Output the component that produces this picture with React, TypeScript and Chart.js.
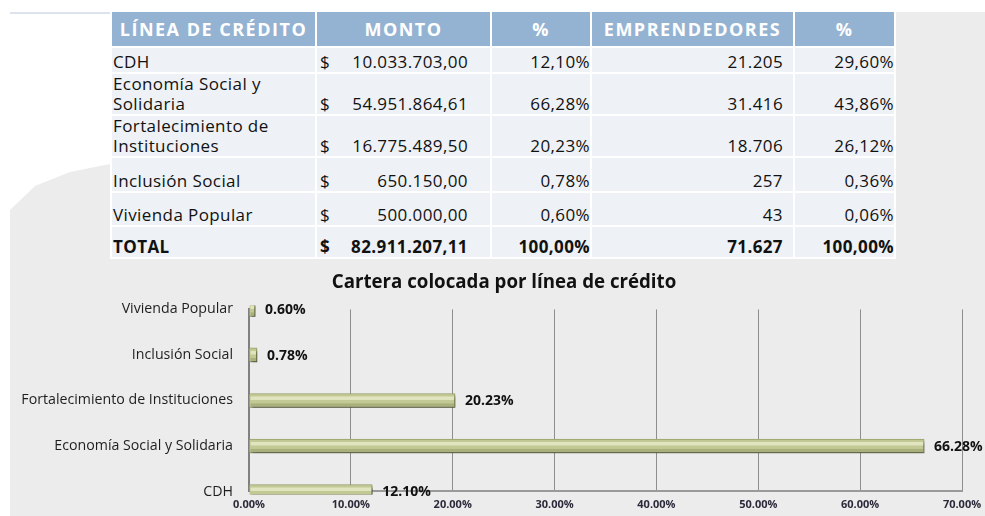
import React, { useEffect, useRef } from 'react';
import { Chart, registerables } from 'chart.js';

Chart.register(...registerables);

// ---- data ----
const headers = ['LÍNEA DE CRÉDITO', 'MONTO', '%', 'EMPRENDEDORES', '%'];
const lineas = ['CDH', 'Economía Social y Solidaria', 'Fortalecimiento de Instituciones', 'Inclusión Social', 'Vivienda Popular'];
const montos = [10033703.0, 54951864.61, 16775489.5, 650150.0, 500000.0];
const pctMonto = [12.1, 66.28, 20.23, 0.78, 0.6];
const emprendedores = [21205, 31416, 18706, 257, 43];
const pctEmprendedores = [29.6, 43.86, 26.12, 0.36, 0.06];
const totalLabel = 'TOTAL';
const totalMonto = 82911207.11;
const totalPctMonto = 100;
const totalEmprendedores = 71627;
const totalPctEmprendedores = 100;
const chartTitle = 'Cartera colocada por línea de crédito';
const xMin = 0;
const xMax = 70;
const xStep = 10;

// ---- layout / style ----
const FONT = '"Open Sans", Lato, sans-serif';
const colWidths = [203, 173, 98, 201, 99];
const rowHeights = [34, 24, 40, 40, 33, 32, 30];

function fmtEs(v: number, dec: number) {
  const [i, d] = v.toFixed(dec).split('.');
  const ig = i.replace(/\B(?=(\d{3})+(?!\d))/g, '.');
  return d ? ig + ',' + d : ig;
}

const barStyler = {
  id: 'barStyler',
  beforeDatasetsDraw(chart: any) {
    const ctx = chart.ctx;
    ctx.save();
    ctx.shadowColor = 'rgba(0,0,0,0.55)';
    ctx.shadowOffsetX = 2;
    ctx.shadowOffsetY = 3;
    ctx.shadowBlur = 3;
  },
  afterDatasetsDraw(chart: any) {
    const ctx = chart.ctx;
    ctx.restore();
    const meta = chart.getDatasetMeta(0);
    const area = chart.chartArea;
    ctx.save();
    ctx.beginPath();
    ctx.rect(area.left, area.top - 4, area.right - area.left + 40, area.bottom - area.top + 7);
    ctx.clip();
    meta.data.forEach((el: any) => {
      const p = el.getProps(['x', 'y', 'base', 'height'], true);
      const top = p.y - p.height / 2;
      const w = p.x - p.base;
      ctx.fillStyle = 'rgba(250,252,225,0.55)';
      ctx.fillRect(p.base + 1, top + 3, w - 2, p.height * 0.25);
      ctx.fillStyle = 'rgba(120,128,80,0.35)';
      ctx.fillRect(p.base + 1, top + p.height - 4, w - 2, 3);
    });
    ctx.restore();
    ctx.save();
    ctx.font = `bold 14px ${FONT}`;
    ctx.fillStyle = '#111';
    ctx.textAlign = 'left';
    ctx.textBaseline = 'middle';
    const ds = chart.data.datasets[0].data as number[];
    meta.data.forEach((el: any, i: number) => {
      const p = el.getProps(['x', 'y'], true);
      ctx.fillText(ds[i].toFixed(2) + '%', p.x + 10, p.y + 1);
    });
    ctx.restore();
  },
};

function BarChart() {
  const ref = useRef<HTMLCanvasElement>(null);
  useEffect(() => {
    if (!ref.current) return;
    const chart = new Chart(ref.current, {
      type: 'bar',
      data: {
        labels: lineas,
        datasets: [
          {
            data: pctMonto,
            backgroundColor: '#c3c994',
            borderColor: '#98a16a',
            borderWidth: 1,
            barThickness: 14,
            clip: { left: 0, top: 4, right: 40, bottom: 3 } as any,
          },
        ],
      },
      options: {
        indexAxis: 'y',
        responsive: false,
        animation: false,
        layout: { padding: { left: 0, right: 0, top: 0, bottom: 0 } },
        plugins: {
          legend: { display: false },
          tooltip: { enabled: false },
          title: {
            display: true,
            text: chartTitle,
            color: '#111',
            font: { family: FONT, size: 18.7, weight: 'bold' },
            padding: { top: 6, bottom: 16 },
          },
        },
        scales: {
          x: {
            type: 'linear',
            min: xMin,
            max: xMax,
            ticks: {
              stepSize: xStep,
              padding: 7,
              color: '#2a2a3a',
              font: { family: FONT, size: 11, weight: 'bold' },
              callback: (v: any) => Number(v).toFixed(2) + '%',
            },
            grid: { color: '#8e8e8e', lineWidth: 1, drawTicks: false },
            border: { display: true, color: '#9a9a9a', width: 2 },
            afterFit: (s: any) => {
              s.height = 22;
            },
          },
          y: {
            type: 'category',
            reverse: true,
            offset: false,
            grid: { display: false, drawTicks: false },
            border: { display: true, color: '#808080', width: 2 },
            ticks: {
              padding: 16,
              color: '#1e1e1e',
              font: { family: FONT, size: 14.2 },
            },
            afterFit: (s: any) => {
              s.width = 249;
            },
          },
          spacer: {
            type: 'linear',
            position: 'right',
            display: true,
            ticks: { display: false },
            grid: { display: false, drawTicks: false },
            border: { display: false },
            afterFit: (s: any) => {
              s.width = 46;
            },
          },
        },
      },
      plugins: [barStyler],
    } as any);
    return () => chart.destroy();
  }, []);
  return (
    <canvas
      ref={ref}
      width={1008}
      height={251}
      style={{ position: 'absolute', left: 0, top: 265, width: 1008, height: 251, display: 'block' }}
    />
  );
}

const cellBase: React.CSSProperties = {
  padding: 0,
  background: '#eef1f6',
  color: '#111',
  fontFamily: FONT,
  fontSize: 17,
  letterSpacing: '0.4px',
  lineHeight: '20px',
  verticalAlign: 'bottom',
  overflow: 'hidden',
  boxSizing: 'border-box',
};

function DataTable() {
  const rows = lineas.map((l, i) => ({
    label: l,
    monto: fmtEs(montos[i], 2),
    pm: fmtEs(pctMonto[i], 2) + '%',
    emp: fmtEs(emprendedores[i], 0),
    pe: fmtEs(pctEmprendedores[i], 2) + '%',
    bold: false,
  }));
  rows.push({
    label: totalLabel,
    monto: fmtEs(totalMonto, 2),
    pm: fmtEs(totalPctMonto, 2) + '%',
    emp: fmtEs(totalEmprendedores, 0),
    pe: fmtEs(totalPctEmprendedores, 2) + '%',
    bold: true,
  });
  return (
    <table
      style={{
        position: 'absolute',
        left: 110,
        top: 10,
        borderCollapse: 'separate',
        borderSpacing: 2,
        background: '#ffffff',
        tableLayout: 'fixed',
        width: colWidths.reduce((a, b) => a + b, 0) + 12,
      }}
    >
      <colgroup>
        {colWidths.map((w, i) => (
          <col key={i} style={{ width: w }} />
        ))}
      </colgroup>
      <tbody>
        <tr style={{ height: rowHeights[0] }}>
          {headers.map((h, i) => (
            <td
              key={i}
              style={{
                ...cellBase,
                background: '#94b3d2',
                color: '#ffffff',
                fontWeight: 'bold',
                fontSize: 18,
                letterSpacing: '1.5px',
                textAlign: 'center',
                verticalAlign: 'middle',
                whiteSpace: 'nowrap',
                height: rowHeights[0],
              }}
            >
              {h}
            </td>
          ))}
        </tr>
        {rows.map((r, ri) => {
          const fw = r.bold ? 'bold' : 'normal';
          const h = rowHeights[ri + 1];
          return (
            <tr key={ri} style={{ height: h }}>
              <td style={{ ...cellBase, fontWeight: fw, paddingLeft: 1, height: h }}>{r.label}</td>
              <td style={{ ...cellBase, fontWeight: fw, height: h }}>
                <div style={{ display: 'flex', justifyContent: 'space-between', padding: '0 22px 0 3px' }}>
                  <span>$</span>
                  <span>{r.monto}</span>
                </div>
              </td>
              <td style={{ ...cellBase, fontWeight: fw, textAlign: 'right', height: h }}>{r.pm}</td>
              <td style={{ ...cellBase, fontWeight: fw, textAlign: 'right', paddingRight: 10, height: h }}>{r.emp}</td>
              <td style={{ ...cellBase, fontWeight: fw, textAlign: 'right', height: h }}>{r.pe}</td>
            </tr>
          );
        })}
      </tbody>
    </table>
  );
}

export default function App() {
  return (
    <div style={{ position: 'absolute', left: 0, top: 0, width: 985, height: 516, background: '#ffffff', overflow: 'hidden' }}>
      <div style={{ position: 'absolute', left: 10, top: 12, right: 0, bottom: 0, background: '#ececec' }} />
      <div style={{ position: 'absolute', left: 10, top: 12, width: 100, height: 2, background: '#dde3ec' }} />
      <div
        style={{
          position: 'absolute',
          left: 10,
          top: 14,
          width: 100,
          height: 200,
          background: '#ffffff',
          clipPath: 'polygon(0 0, 100% 0, 100% 75%, 60% 79%, 25% 86%, 0 98%)',
        }}
      />
      <DataTable />
      <BarChart />
    </div>
  );
}
